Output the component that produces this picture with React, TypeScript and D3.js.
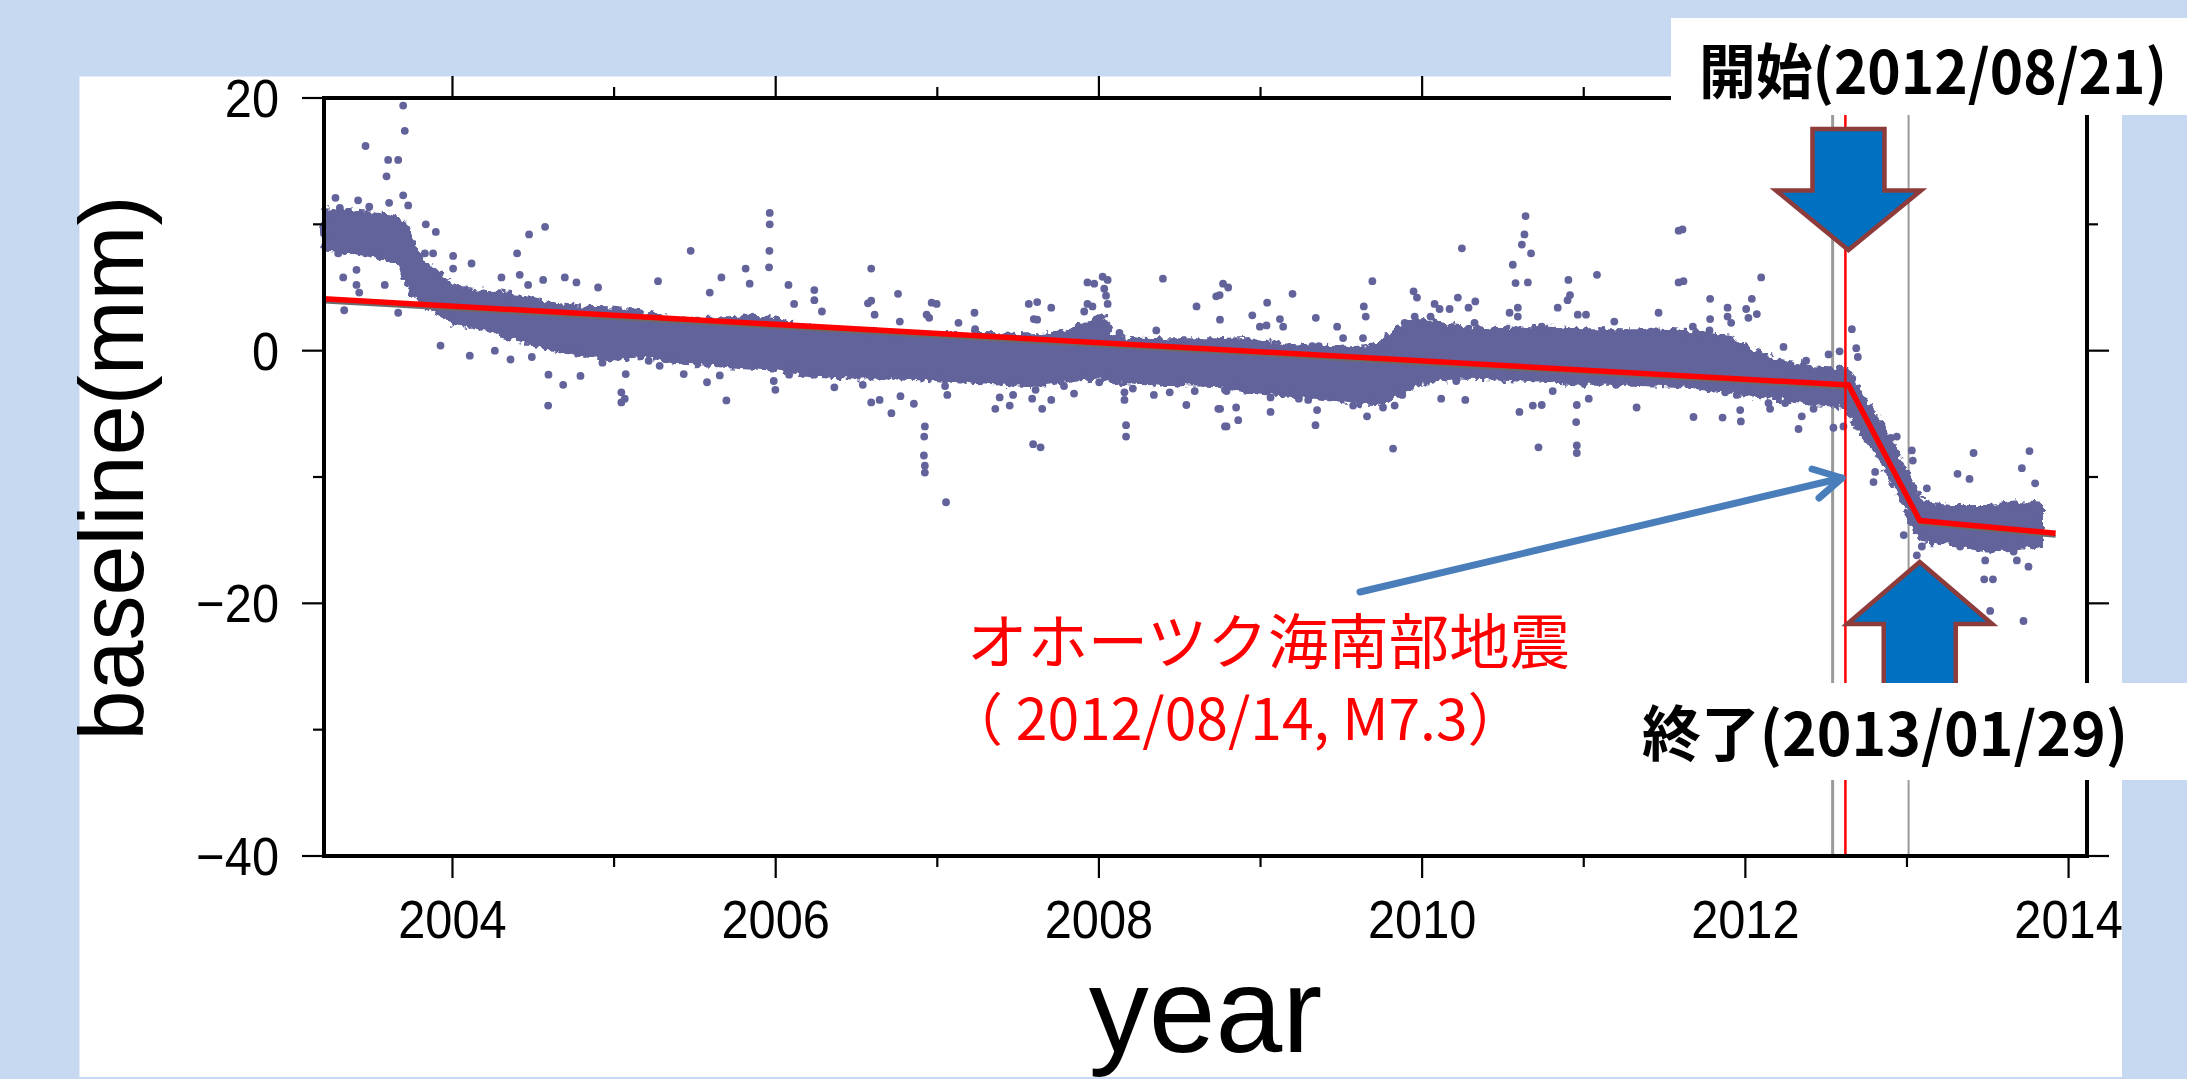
import React from "react";
import * as d3 from "d3";

// Dense core of the daily baseline solutions: upper/lower edge of the point cloud (mm)
const bandYears = [
  2003.21, 2003.4, 2003.55, 2003.68, 2003.74, 2003.8, 2003.9, 2004.0, 2004.2, 2004.4,
  2004.6, 2004.8, 2005.0, 2005.2, 2005.4, 2005.6, 2005.8, 2006.0, 2006.2, 2006.5,
  2006.8, 2007.0, 2007.3, 2007.6, 2007.85, 2008.0, 2008.1, 2008.4, 2008.7, 2008.9,
  2009.1, 2009.4, 2009.7, 2009.85, 2010.0, 2010.2, 2010.5, 2010.8, 2011.0, 2011.3,
  2011.6, 2011.9, 2012.1, 2012.35, 2012.62, 2012.7, 2012.82, 2012.95, 2013.05, 2013.12,
  2013.3, 2013.5, 2013.7, 2013.82,
];
const bandUpper = [
  11.0, 10.9, 10.6, 10.2, 8.6, 7.1, 6.2, 5.0, 4.6, 4.2,
  3.6, 3.3, 3.2, 2.8, 2.4, 2.4, 2.5, 2.3, 1.8, 1.5,
  1.2, 1.2, 1.2, 1.1, 1.6, 2.6, 0.9, 0.7, 0.7, 0.8,
  0.4, 0.1, 0.3, 1.6, 2.3, 1.8, 1.6, 1.7, 1.5, 1.5,
  1.4, 0.9, -0.5, -1.3, -1.7, -3.4, -5.7, -8.7, -11.2, -12.3,
  -12.5, -12.5, -12.2, -12.3,
];
const bandLower = [
  8.2, 7.9, 7.5, 6.9, 4.9, 4.1, 3.2, 2.4, 1.8, 1.0,
  0.3, -0.2, -0.5, -0.3, -0.9, -1.0, -1.2, -1.3, -1.8, -2.0,
  -2.0, -2.2, -2.4, -2.6, -2.2, -2.0, -2.3, -2.5, -2.6, -3.1,
  -3.3, -3.7, -4.1, -3.3, -2.5, -2.0, -2.1, -2.3, -2.5, -2.5,
  -2.7, -3.1, -3.5, -3.9, -4.4, -6.1, -8.1, -11.1, -13.9, -15.0,
  -15.1, -15.7, -15.5, -15.3,
];

// Individual solutions lying off the dense core: [year, mm]
const scatterPoints: [number, number][] = [
  [2003.695, 19.4], [2003.705, 17.4], [2003.462, 16.2], [2003.602, 15.1], [2003.664, 15.1],
  [2003.592, 13.8], [2003.695, 12.3], [2003.608, 11.7], [2003.276, 12.1], [2003.416, 11.9],
  [2003.485, 11.4], [2003.726, 11.5], [2003.303, 11.3], [2003.835, 10.0], [2003.897, 9.4],
  [2003.293, 7.7], [2003.324, 5.8], [2003.406, 6.4], [2003.406, 5.2], [2003.423, 4.6],
  [2003.581, 5.2], [2003.33, 3.2], [2003.664, 3.0], [2003.829, 7.7], [2003.88, 7.7],
  [2004.004, 7.5], [2004.004, 6.5], [2004.118, 6.9], [2004.474, 9.2], [2004.573, 9.8],
  [2004.4, 7.7], [2004.303, 5.8], [2004.416, 6.0], [2004.468, 5.2], [2004.561, 5.6],
  [2004.695, 5.8], [2004.767, 5.4], [2004.901, 5.0], [2005.272, 5.5], [2005.474, 7.9],
  [2005.664, 5.8], [2005.592, 4.6], [2005.814, 6.5], [2005.839, 5.3], [2005.963, 10.9],
  [2005.963, 10.0], [2005.961, 7.9], [2005.959, 6.6], [2003.926, 0.4], [2004.107, -0.4],
  [2004.262, 0.0], [2004.359, -0.7], [2004.491, -0.5], [2004.594, -1.9], [2004.685, -2.7],
  [2004.592, -4.35], [2004.792, -2.0], [2004.928, -0.95], [2005.045, -3.3], [2005.066, -3.8],
  [2005.045, -4.1], [2005.072, -1.85], [2005.214, -0.8], [2005.282, -1.2], [2005.431, -1.85],
  [2005.575, -2.5], [2005.654, -1.96], [2005.695, -3.94], [2005.988, -2.4], [2005.998, -3.1],
  [2006.591, 6.5], [2006.079, 5.2], [2006.239, 4.8], [2006.239, 4.0], [2006.114, 3.7],
  [2006.286, 3.1], [2006.571, 3.75], [2006.591, 3.95], [2006.612, 2.85], [2006.757, 4.5],
  [2006.768, 2.3], [2006.934, 2.85], [2006.95, 2.6], [2006.965, 3.8], [2006.996, 3.7],
  [2007.131, 2.2], [2007.23, 3.0], [2007.234, 1.7], [2007.566, 3.7], [2007.618, 3.85],
  [2007.597, 2.5], [2007.618, 2.45], [2007.705, 3.4], [2007.929, 5.4], [2007.971, 5.3],
  [2008.023, 5.85], [2008.054, 5.6], [2008.033, 4.9], [2008.044, 4.35], [2008.054, 3.7],
  [2007.929, 3.7], [2007.96, 3.5], [2007.909, 3.1], [2008.396, 5.7], [2008.604, 3.5],
  [2008.726, 4.3], [2008.747, 4.4], [2008.768, 5.3], [2008.8, 5.0], [2008.749, 2.45],
  [2008.127, 1.4], [2008.355, 1.6], [2006.083, -1.9], [2006.239, -1.9], [2006.363, -2.9],
  [2006.539, -2.7], [2006.591, -4.1], [2006.643, -3.9], [2006.716, -4.95], [2006.772, -3.6],
  [2006.855, -4.2], [2006.923, -6.0], [2006.919, -6.8], [2006.917, -8.3], [2006.923, -9.1],
  [2006.923, -9.65], [2007.054, -12.0], [2007.048, -2.8], [2007.062, -3.5], [2007.141, -2.3],
  [2007.386, -3.7], [2007.359, -4.6], [2007.448, -4.35], [2007.469, -3.5], [2007.587, -3.8],
  [2007.608, -3.1], [2007.649, -4.6], [2007.705, -3.9], [2007.593, -7.4], [2007.639, -7.65],
  [2007.784, -2.8], [2007.846, -3.4], [2008.002, -2.5], [2008.158, -3.3], [2008.158, -3.9],
  [2008.168, -5.9], [2008.168, -6.8], [2008.21, -3.0], [2008.34, -3.5], [2008.438, -3.3],
  [2008.541, -4.3], [2008.593, -3.2], [2008.739, -4.6], [2008.79, -6.0], [2008.79, -3.2],
  [2008.949, 2.8], [2009.041, 3.8], [2009.198, 4.5], [2009.12, 2.5], [2009.14, 1.9],
  [2008.996, 1.9], [2009.037, 2.0], [2009.342, 2.6], [2009.32, 0.35], [2009.361, 0.35],
  [2009.474, 1.9], [2009.511, 1.0], [2009.639, 3.5], [2009.651, 2.7], [2009.692, 5.5],
  [2009.634, 1.0], [2009.947, 4.7], [2009.968, 4.2], [2009.892, 2.2], [2009.954, 2.7],
  [2009.964, 1.9], [2010.052, 2.7], [2010.108, 3.3], [2010.17, 3.3], [2010.077, 3.7],
  [2010.221, 4.2], [2010.246, 8.1], [2010.287, 3.4], [2010.329, 3.9], [2010.324, 2.2],
  [2010.541, 3.0], [2010.592, 3.4], [2010.592, 2.7], [2010.561, 6.8], [2010.578, 5.35],
  [2010.654, 5.4], [2010.617, 8.4], [2010.633, 9.2], [2010.64, 10.65], [2010.674, 7.7],
  [2010.74, 1.9], [2010.839, 3.4], [2010.905, 5.6], [2010.915, 4.4], [2010.9, 4.0],
  [2010.963, 2.85], [2011.014, 2.85], [2011.082, 6.0], [2011.189, 2.3], [2011.463, 3.0],
  [2011.416, 1.5], [2011.587, 9.5], [2011.587, 5.4], [2008.75, -4.6], [2008.849, -4.5],
  [2008.78, -3.1], [2008.78, -6.0], [2008.862, -5.5], [2009.062, -3.7], [2009.062, -4.85],
  [2009.237, -3.8], [2009.295, -3.9], [2009.35, -4.7], [2009.34, -5.9], [2009.428, -3.7],
  [2009.573, -4.35], [2009.659, -5.2], [2009.758, -4.5], [2009.82, -7.75], [2009.83, -4.35],
  [2009.877, -3.5], [2010.118, -3.8], [2010.211, -2.4], [2010.267, -3.9], [2010.602, -4.85],
  [2010.685, -4.35], [2010.74, -4.3], [2010.72, -7.65], [2010.808, -3.2], [2010.953, -5.65],
  [2010.957, -7.5], [2010.957, -8.1], [2010.957, -4.3], [2011.031, -3.8], [2011.097, -2.5],
  [2011.327, -4.5], [2011.2, -2.7], [2011.364, -2.3],
  [2011.611, 9.6], [2011.617, 5.5], [2012.098, 5.8], [2011.782, 4.1], [2012.04, 4.1],
  [2011.782, 2.5], [2011.778, 1.6], [2011.675, 1.9], [2011.89, 3.4], [2011.89, 2.7],
  [2011.912, 2.2], [2012.005, 3.3], [2012.019, 2.6], [2012.071, 2.9], [2012.236, 0.3],
  [2012.376, -0.8], [2012.515, -0.3], [2012.583, -0.05], [2012.659, 1.7], [2012.686, 0.2],
  [2012.696, -0.5], [2011.679, -5.25], [2011.859, -5.3], [2011.972, -5.6], [2011.968, -4.7],
  [2011.947, -3.5], [2011.875, -3.3], [2012.143, -4.15], [2012.153, -4.6], [2012.246, -4.15],
  [2012.329, -6.2], [2012.349, -5.2], [2012.422, -4.6], [2012.545, -6.1], [2012.607, -6.0],
  [2012.659, -5.0], [2012.793, -10.4], [2012.803, -9.6], [2012.9, -6.9], [2012.937, -6.8],
  [2013.03, -7.9], [2013.036, -8.7], [2012.98, -14.6], [2013.061, -16.2], [2013.092, -15.5],
  [2013.123, -10.9], [2013.412, -8.1], [2013.313, -9.75], [2013.387, -10.15], [2013.758, -7.95],
  [2013.711, -9.3], [2013.793, -10.5], [2013.752, -17.1], [2013.478, -18.1], [2013.532, -18.1],
  [2013.515, -20.6], [2013.721, -21.4], [2013.329, -15.5], [2013.68, -16.6], [2013.66, -15.9],
  [2013.484, -16.6],
];

// Piecewise-linear trend (red) and the original plot's fitted trend (gray)
const fitYears = [2003.205, 2012.638, 2013.079, 2013.92];
const fitMm = [4.1, -2.72, -13.45, -14.45];
const refFitMm = [3.85, -2.97, -13.7, -14.7];

// Vertical markers
const grayMarkerYears = [2012.54, 2013.01];
const quakeYear = 2012.619; // 2012/08/14
const startYear = 2012.638; // 2012/08/21
const endYear = 2013.079; // 2013/01/29

const xTickYears = [2004, 2005, 2006, 2007, 2008, 2009, 2010, 2011, 2012, 2013, 2014];
const yTickValues = [-40, -30, -20, -10, 0, 10, 20];

const BG = "#c6d9f0";
const DOT = "#62639b";
const AXIS_FONT = "'Liberation Sans', Arial, Helvetica, sans-serif";
const JP_FONT = "'Noto Sans CJK JP', 'Noto Sans', sans-serif";

function blockArrow(cx: number, tipY: number, baseY: number, endY: number) {
  // tipY: arrow point, baseY: head base, endY: shaft end
  const hw = 72.5;
  const sw = 36;
  return (
    [
      [cx, tipY],
      [cx + hw, baseY],
      [cx + sw, baseY],
      [cx + sw, endY],
      [cx - sw, endY],
      [cx - sw, baseY],
      [cx - hw, baseY],
    ]
      .map((p, i) => `${i ? "L" : "M"}${p[0]},${p[1]}`)
      .join("") + "Z"
  );
}

export default function App() {
  const W = 2187;
  const H = 1079;
  const left = 324;
  const right = 2087;
  const top = 98;
  const bottom = 856;

  const x = d3.scaleLinear().domain([2003.205, 2014.114]).range([left, right]);
  const y = d3.scaleLinear().domain([-40, 20]).range([bottom, top]);

  const band = bandYears.map((t, i) => ({ t, hi: bandUpper[i], lo: bandLower[i] }));
  const bandArea = d3
    .area<{ t: number; hi: number; lo: number }>()
    .x((d) => x(d.t))
    .y0((d) => y(d.lo))
    .y1((d) => y(d.hi))
    .curve(d3.curveMonotoneX);

  const line = d3
    .line<[number, number]>()
    .x((d) => x(d[0]))
    .y((d) => y(d[1]));
  const fit = fitYears.map((t, i) => [t, fitMm[i]] as [number, number]);
  const refFit = fitYears.map((t, i) => [t, refFitMm[i]] as [number, number]);

  const major = 22;
  const minor = 11;

  const xq = x(quakeYear);
  const xs = x(startYear);
  const xe = x(endYear);

  return (
    <svg
      width={W}
      height={H}
      viewBox={`0 0 ${W} ${H}`}
      style={{ position: "absolute", left: 0, top: 0, display: "block" }}
    >
      <defs>
        {/* ragged outline so the dense core reads as overlapping dots */}
        <filter id="cloudEdge" x="-2%" y="-30%" width="104%" height="160%">
          <feTurbulence type="fractalNoise" baseFrequency="0.16" numOctaves={2} seed={7} result="noise" />
          <feDisplacementMap in="SourceGraphic" in2="noise" scale={11} xChannelSelector="R" yChannelSelector="G" />
        </filter>
      </defs>

      <rect x={0} y={0} width={W} height={H} fill={BG} />
      <rect x={79.5} y={76.5} width={2122 - 79.5} height={1077 - 76.5} fill="#fff" />

      {/* gray reference lines */}
      {grayMarkerYears.map((t, i) => (
        <line key={i} x1={x(t)} x2={x(t)} y1={top} y2={bottom} stroke="#9a9a9a" strokeWidth={i === 0 ? 3 : 2} />
      ))}

      {/* point cloud */}
      <path
        d={bandArea(band) || ""}
        fill={DOT}
        stroke={DOT}
        strokeWidth={7}
        strokeLinejoin="round"
        filter="url(#cloudEdge)"
      />
      {scatterPoints.map((p, i) => (
        <circle key={i} cx={x(p[0])} cy={y(p[1])} r={3.9} fill={DOT} />
      ))}

      {/* trends */}
      <path d={line(refFit) || ""} fill="none" stroke="#6b6b6b" strokeWidth={3} />
      <path d={line(fit) || ""} fill="none" stroke="#ff0000" strokeWidth={5.5} strokeLinejoin="miter" />

      {/* earthquake date */}
      <line x1={xq} x2={xq} y1={top} y2={bottom} stroke="#ff0000" strokeWidth={2.5} />

      {/* frame */}
      <rect x={left} y={top} width={right - left} height={bottom - top} fill="none" stroke="#000" strokeWidth={4} />
      {xTickYears.map((t) => {
        const len = t % 2 === 0 ? major : minor;
        return (
          <g key={t}>
            <line x1={x(t)} x2={x(t)} y1={bottom} y2={bottom + len} stroke="#000" strokeWidth={2.2} />
            <line x1={x(t)} x2={x(t)} y1={top} y2={top - len} stroke="#000" strokeWidth={2.2} />
            {t % 2 === 0 && (
              <text
                transform={`translate(${x(t)},938) scale(0.92,1)`}
                textAnchor="middle"
                fontFamily={AXIS_FONT}
                fontSize={53}
                fill="#000"
              >
                {t}
              </text>
            )}
          </g>
        );
      })}
      {yTickValues.map((v) => {
        const len = v % 20 === 0 ? major : minor;
        return (
          <g key={v}>
            <line x1={left} x2={left - len} y1={y(v)} y2={y(v)} stroke="#000" strokeWidth={2.2} />
            <line x1={right} x2={right + len} y1={y(v)} y2={y(v)} stroke="#000" strokeWidth={2.2} />
            {v % 20 === 0 && (
              <text
                transform={`translate(279,${y(v) + 19}) scale(0.92,1)`}
                textAnchor="end"
                fontFamily={AXIS_FONT}
                fontSize={53}
                fill="#000"
              >
                {v < 0 ? `\u2212${Math.abs(v)}` : v}
              </text>
            )}
          </g>
        );
      })}

      {/* axis titles */}
      <text x={(left + right) / 2} y={1052} textAnchor="middle" fontFamily={AXIS_FONT} fontSize={120} fill="#000">
        year
      </text>
      <text
        transform="translate(143,468) rotate(-90)"
        textAnchor="middle"
        fontFamily={AXIS_FONT}
        fontSize={90}
        fill="#000"
      >
        baseline(mm)
      </text>

      {/* earthquake annotation */}
      <g stroke="#4a7ebb" strokeWidth={7} strokeLinecap="round" strokeLinejoin="round" fill="none">
        <line x1={1360} y1={592} x2={1842} y2={478} />
        <polyline points="1812,469 1842,478 1819,498" />
      </g>
      <text x={967} y={664} fontFamily={JP_FONT} fontSize={60} fill="#ff0000" textLength={603} lengthAdjust="spacingAndGlyphs">
        オホーツク海南部地震
      </text>
      <text x={946} y={740} fontFamily={JP_FONT} fontSize={57} fill="#ff0000">
        （ 2012/08/14, M7.3）
      </text>

      {/* start / end arrows */}
      <path d={blockArrow(xs, 250, 190.5, 129)} fill="#0070c0" stroke="#8e3b3b" strokeWidth={4.5} strokeLinejoin="miter" />
      <path d={blockArrow(xe, 562, 624, 700)} fill="#0070c0" stroke="#8e3b3b" strokeWidth={4.5} strokeLinejoin="miter" />

      {/* label boxes */}
      <rect x={1671} y={18} width={W - 1671} height={115 - 18} fill="#fff" />
      <rect x={2122} y={115} width={W - 2122} height={683 - 115} fill={BG} />
      <rect x={1630} y={683} width={W - 1630} height={780 - 683} fill="#fff" />
      <rect x={2122} y={780} width={W - 2122} height={H - 780} fill={BG} />
      <rect x={0} y={1077} width={W} height={2} fill={BG} />

      <text x={1699} y={94} fontFamily={JP_FONT} fontWeight={700} fontSize={60} fill="#000" textLength={468} lengthAdjust="spacingAndGlyphs">
        開始(2012/08/21)
      </text>
      <text x={1642} y={756} fontFamily={JP_FONT} fontWeight={700} fontSize={60} fill="#000" textLength={486} lengthAdjust="spacingAndGlyphs">
        終了(2013/01/29)
      </text>
    </svg>
  );
}
